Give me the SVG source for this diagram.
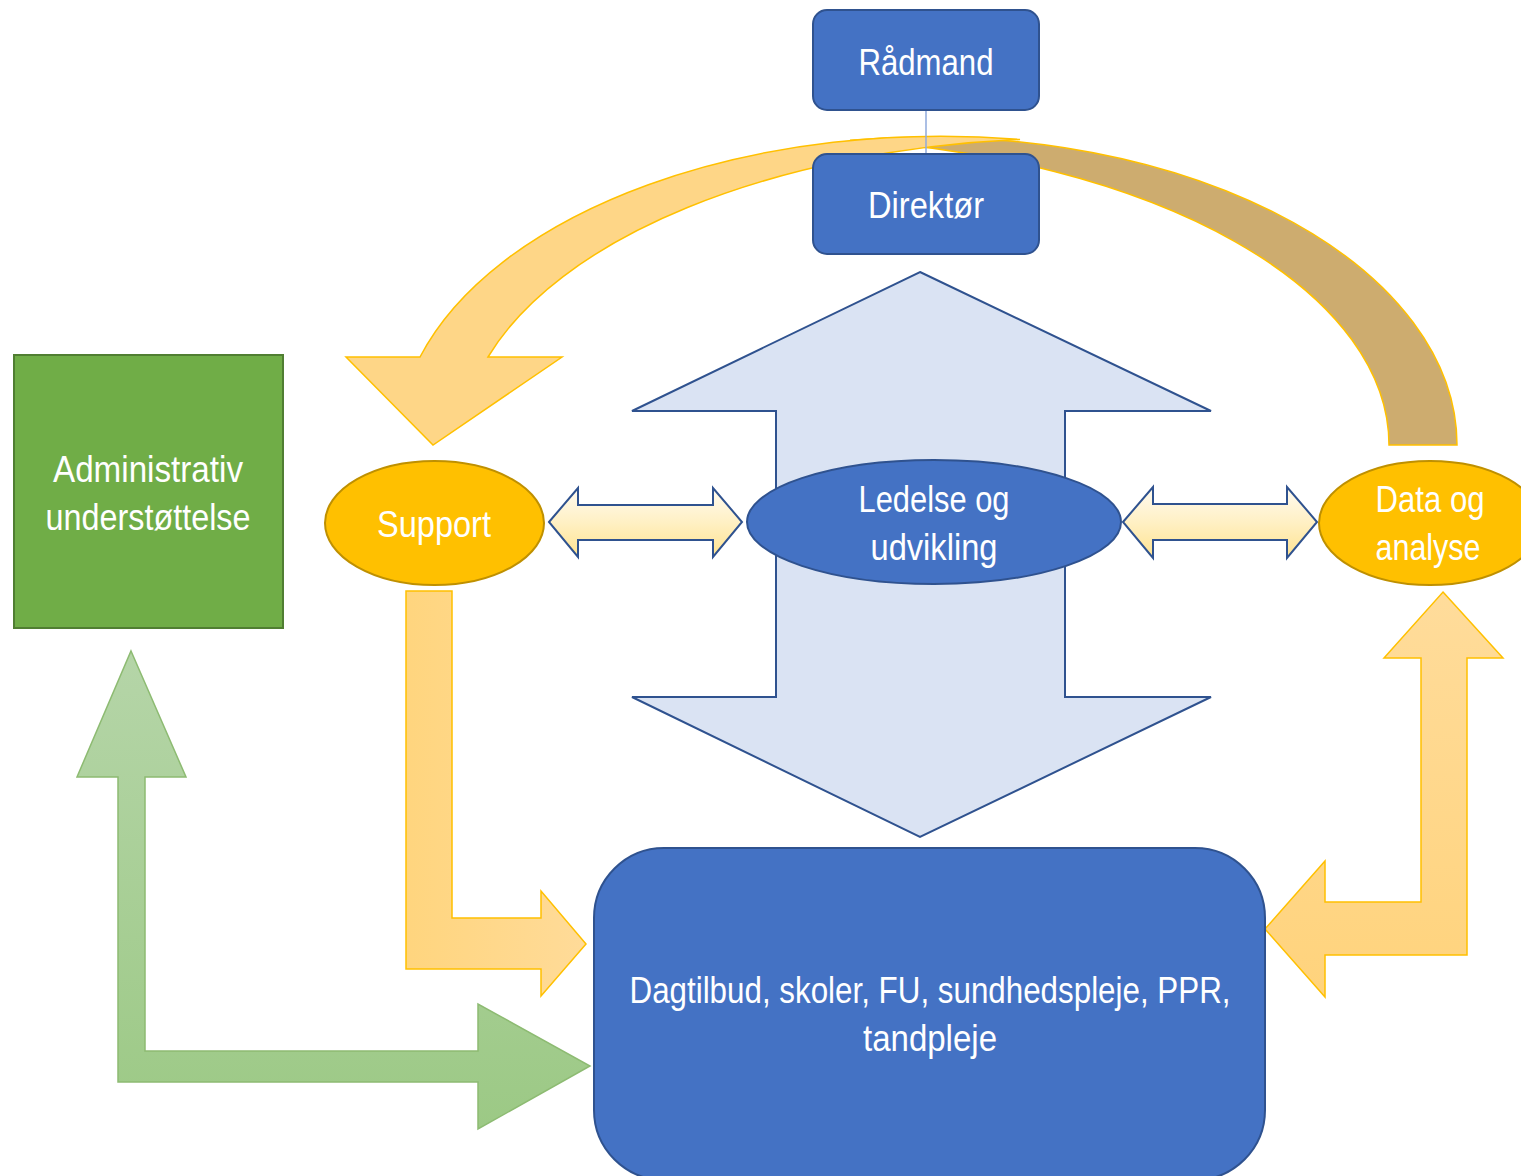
<svg xmlns="http://www.w3.org/2000/svg" width="1521" height="1176" viewBox="0 0 1521 1176">
<style>
.t{fill:#fff;font-family:"Liberation Sans Narrow","Liberation Sans",Arial,sans-serif;font-size:37px;text-anchor:middle}
.blue{fill:#4472C4;stroke:#2F528F;stroke-width:2}
.gold{fill:#FFC000;stroke:#BF9000;stroke-width:2}
.dbl{fill:url(#dblGrad);stroke:#2F528F;stroke-width:2}
.org{stroke:#FFC000;stroke-width:1.5}
</style>
<defs>
<linearGradient id="dblGrad" x1="0" y1="0" x2="0" y2="1">
<stop offset="0" stop-color="#FFFBF2"/>
<stop offset="0.5" stop-color="#FFF0C4"/>
<stop offset="1" stop-color="#FFE38F"/>
</linearGradient>
<linearGradient id="greenGrad" gradientUnits="userSpaceOnUse" x1="0" y1="651" x2="0" y2="1129">
<stop offset="0" stop-color="#B5D5A8"/>
<stop offset="1" stop-color="#9CC985"/>
</linearGradient>
<linearGradient id="supGrad" gradientUnits="userSpaceOnUse" x1="406" y1="0" x2="586" y2="0">
<stop offset="0" stop-color="#FFD57E"/>
<stop offset="1" stop-color="#FFDB99"/>
</linearGradient>
<linearGradient id="datGrad" gradientUnits="userSpaceOnUse" x1="0" y1="592" x2="0" y2="997">
<stop offset="0" stop-color="#FFDC9B"/>
<stop offset="1" stop-color="#FFD37C"/>
</linearGradient>
</defs>

<g id="connectors">
<path id="curve-back" d="M 1457 445 A 531 308 0 0 0 850 140.2 A 614 307 0 0 1 1389 445 Z" fill="#CDAC6F" stroke="#FFC000" stroke-width="1.5"/>
<path id="curve-front" d="M 420 357 A 543 308 0 0 1 1020 139.5 A 614 307 0 0 0 488 357 L 562 357 L 433 445 L 346 357 Z" fill="#FED687" stroke="#FFC000" stroke-width="1.5"/>
<line x1="926" y1="110" x2="926" y2="154" stroke="#8FAADC" stroke-width="1.5"/>
<path id="big-updown" d="M 920 272 L 1211 411 L 1065 411 L 1065 697 L 1211 697 L 920 837 L 632 697 L 776 697 L 776 411 L 632 411 Z" fill="#DAE3F3" stroke="#2F528F" stroke-width="2"/>
<path class="dbl" d="M 549 522 L 578 488 L 578 505 L 713 505 L 713 488 L 742 522 L 713 557 L 713 540 L 578 540 L 578 557 Z"/>
<path class="dbl" d="M 1123 522 L 1153 487 L 1153 504 L 1287 504 L 1287 487 L 1317 522 L 1287 558 L 1287 540 L 1153 540 L 1153 558 Z"/>
<path class="org" fill="url(#supGrad)" d="M 406 591 L 452 591 L 452 918 L 541 918 L 541 891 L 586 944 L 541 996 L 541 969 L 406 969 Z"/>
<path fill="url(#greenGrad)" stroke="#8DBB72" stroke-width="1.5" d="M 131 651 L 186 777 L 145 777 L 145 1051 L 478 1051 L 478 1004 L 590 1066 L 478 1129 L 478 1082 L 118 1082 L 118 777 L 77 777 Z"/>
<path class="org" fill="url(#datGrad)" d="M 1443 592 L 1503 658 L 1467 658 L 1467 955 L 1325 955 L 1325 997 L 1265 929 L 1325 861 L 1325 902 L 1421 902 L 1421 658 L 1384 658 Z"/>
</g>

<g id="radmand">
<rect class="blue" x="813" y="10" width="226" height="100" rx="14"/>
<text class="t" x="926" y="75" textLength="135" lengthAdjust="spacingAndGlyphs">Rådmand</text>
</g>
<g id="direktor">
<rect class="blue" x="813" y="154" width="226" height="100" rx="14"/>
<text class="t" x="926" y="218" textLength="116" lengthAdjust="spacingAndGlyphs">Direktør</text>
</g>
<g id="administrativ">
<rect x="14" y="355" width="269" height="273" fill="#70AD47" stroke="#507E32" stroke-width="2"/>
<text class="t" x="148" y="482" textLength="190" lengthAdjust="spacingAndGlyphs">Administrativ</text>
<text class="t" x="148" y="530" textLength="205" lengthAdjust="spacingAndGlyphs">understøttelse</text>
</g>
<g id="support">
<ellipse class="gold" cx="434.5" cy="523" rx="109.5" ry="62"/>
<text class="t" x="434" y="537" textLength="114" lengthAdjust="spacingAndGlyphs">Support</text>
</g>
<g id="ledelse">
<ellipse class="blue" cx="934" cy="522" rx="187" ry="62"/>
<text class="t" x="934" y="512" textLength="151" lengthAdjust="spacingAndGlyphs">Ledelse og</text>
<text class="t" x="934" y="560" textLength="127" lengthAdjust="spacingAndGlyphs">udvikling</text>
</g>
<g id="data">
<ellipse class="gold" cx="1430" cy="523" rx="111" ry="62"/>
<text class="t" x="1430" y="512" textLength="109" lengthAdjust="spacingAndGlyphs">Data og</text>
<text class="t" x="1428" y="560" textLength="105" lengthAdjust="spacingAndGlyphs">analyse</text>
</g>
<g id="dagtilbud">
<rect class="blue" x="594" y="848" width="671" height="332" rx="70"/>
<text class="t" x="930" y="1003" textLength="601" lengthAdjust="spacingAndGlyphs">Dagtilbud, skoler, FU, sundhedspleje, PPR,</text>
<text class="t" x="930" y="1051" textLength="134" lengthAdjust="spacingAndGlyphs">tandpleje</text>
</g>
</svg>
